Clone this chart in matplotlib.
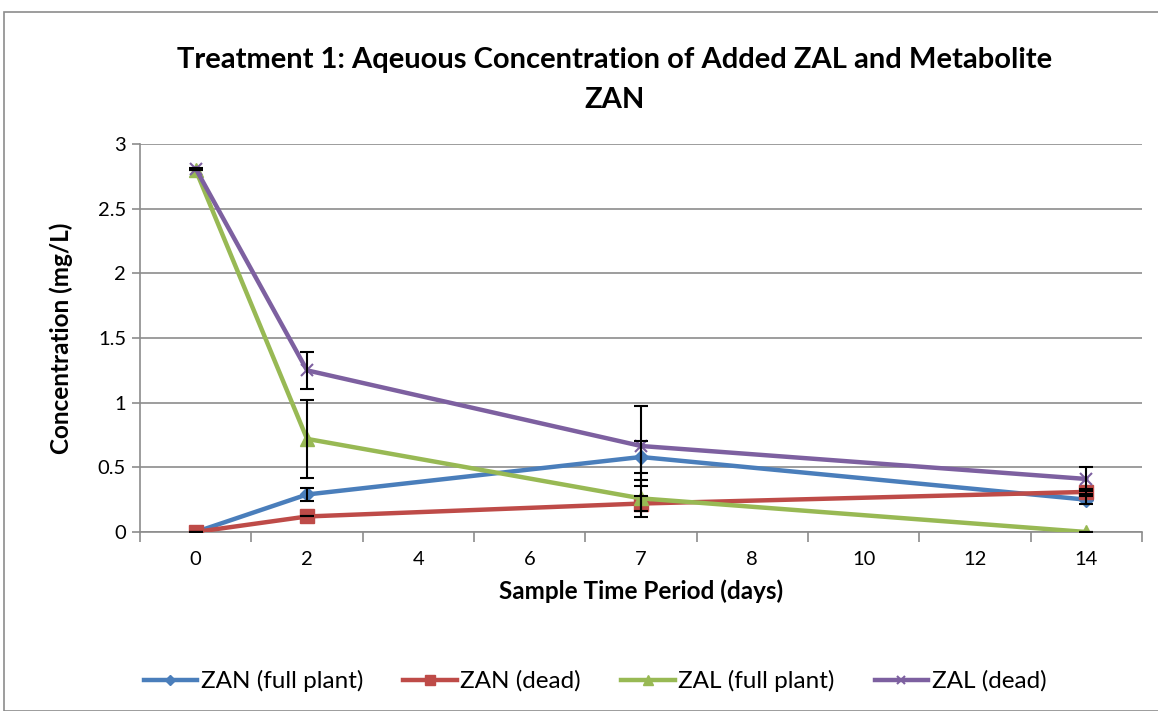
import matplotlib.pyplot as plt
from matplotlib.patches import Rectangle

# category axis (Excel style): labels sit between tick marks
categories = ["0", "2", "4", "6", "7", "8", "10", "12", "14"]
days = ["0", "2", "7", "14"]

zan_full = [0.0, 0.29, 0.58, 0.25]
zan_dead = [0.0, 0.12, 0.22, 0.31]
zal_full = [2.80, 0.72, 0.26, 0.0]
zal_dead = [2.81, 1.25, 0.665, 0.41]

zan_full_err = [0.0, 0.05, 0.12, 0.03]
zan_dead_err = [0.0, 0.0, 0.06, 0.02]
zal_full_err = [0.0, 0.30, 0.145, 0.0]
zal_dead_err = [0.004, 0.145, 0.31, 0.095]

labels = ["ZAN (full plant)", "ZAN (dead)", "ZAL (full plant)", "ZAL (dead)"]
colors = ["#4a7ebb", "#be4b48", "#98b954", "#7d60a0"]
markers = ["D", "s", "^", "x"]
msizes = [7.5, 9.5, 10, 9]

plt.rcParams['font.family'] = ['Lato', 'DejaVu Sans']

fig = plt.figure(figsize=(11.58, 7.11), dpi=100)
fig.patches.append(Rectangle((4 / 1158, 0), 1.0, 1 - 12 / 711, transform=fig.transFigure,
                             fill=False, edgecolor="#8c8c8c", linewidth=1.2))
ax = fig.add_axes([140 / 1158, 1 - 532 / 711, 1002 / 1158, 388 / 711])

xpos = [categories.index(d) for d in days]
series = [zan_full, zan_dead, zal_full, zal_dead]
errs = [zan_full_err, zan_dead_err, zal_full_err, zal_dead_err]

for i in range(len(series)):
    ax.errorbar(xpos, series[i], yerr=errs[i], fmt='none', ecolor='black',
                elinewidth=1.5, capsize=5, capthick=1.5, zorder=4)
for i in range(len(series)):
    ax.plot(xpos, series[i], color=colors[i], linewidth=3.2, marker=markers[i],
            markersize=msizes[i], markeredgewidth=1.5 if markers[i] == "x" else 1,
            markeredgecolor=colors[i], label=labels[i], zorder=3)

ax.set_xlim(-0.5, len(categories) - 0.5)
ax.set_ylim(0, 3)
ax.set_yticks([0, 0.5, 1, 1.5, 2, 2.5, 3])
ax.set_yticklabels(["0", "0.5", "1", "1.5", "2", "2.5", "3"], fontsize=14.5)
ax.set_xticks(range(len(categories)))
ax.set_xticklabels(categories, fontsize=14.5)
ax.set_xticks([x - 0.5 for x in range(len(categories) + 1)], minor=True)
ax.tick_params(axis='x', which='major', length=0, pad=14)
ax.tick_params(axis='x', which='minor', length=7, color="#8c8c8c", width=1.2)
ax.tick_params(axis='y', length=6, color="#8c8c8c", width=1.2, pad=4)
ax.grid(axis='y', color="#8c8c8c", linewidth=1.2)
ax.set_axisbelow(True)
for s in ["top", "right"]:
    ax.spines[s].set_visible(False)
for s in ["left", "bottom"]:
    ax.spines[s].set_color("#8c8c8c")
    ax.spines[s].set_linewidth(1.2)

ax.set_xlabel("Sample Time Period (days)", fontsize=17.5, fontweight='bold', labelpad=8)
ax.set_ylabel("Concentration (mg/L)", fontsize=17.5, fontweight='bold', labelpad=18)

fig.text(615 / 1158, 1 - 60 / 711, "Treatment 1: Aqeuous Concentration of Added ZAL and Metabolite",
         ha='center', va='center', fontsize=21, fontweight='bold')
fig.text(615 / 1158, 1 - 100 / 711, "ZAN", ha='center', va='center', fontsize=21, fontweight='bold')

fig.legend(loc='center', bbox_to_anchor=(595 / 1158, 1 - 681 / 711), ncol=4, frameon=False,
           fontsize=17.5, handlelength=2.2, columnspacing=1.65, handletextpad=0.15,
           markerscale=0.7)

fig.savefig("out.png", dpi=100)
